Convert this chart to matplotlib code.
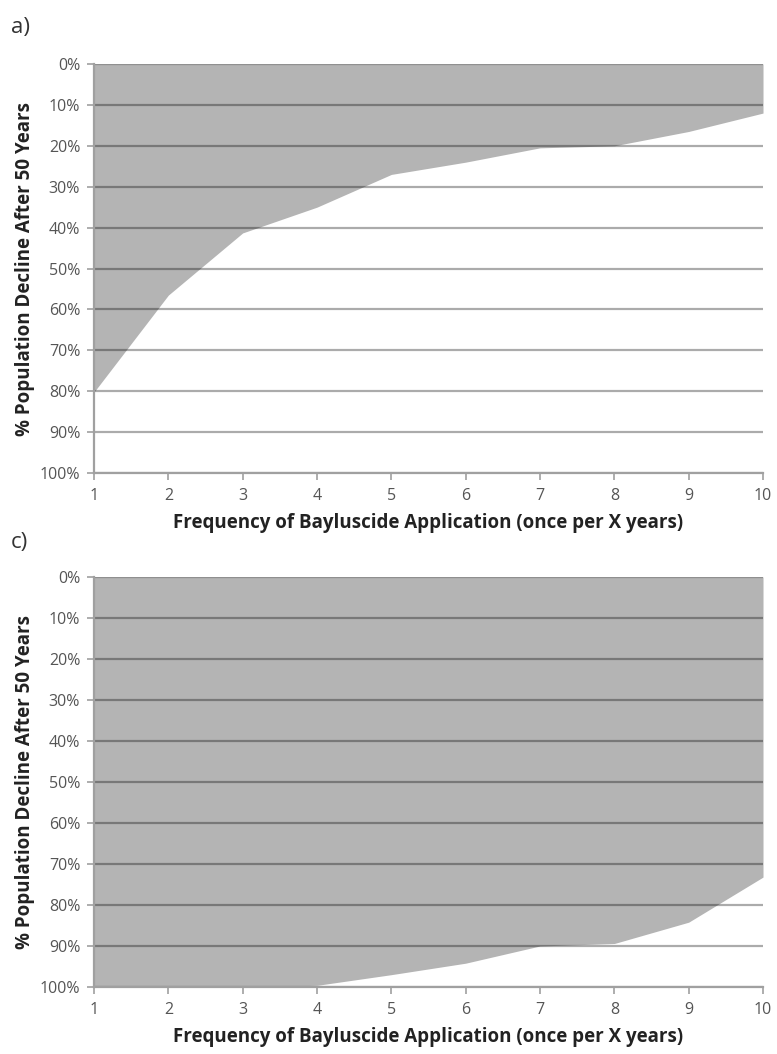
import matplotlib.pyplot as plt
import numpy as np

plt.rcParams['font.family'] = ['Open Sans', 'DejaVu Sans']

# Frequency of application (once per X years)
years = [1, 2, 3, 4, 5, 6, 7, 8, 9, 10]

# % population decline after 50 years
decline_a = [80.2, 56.5, 41.3, 35.0, 27.0, 24.0, 20.5, 20.0, 16.5, 12.0]
decline_c = [100.0, 100.0, 100.0, 99.6, 97.0, 94.2, 90.0, 89.4, 84.2, 73.2]

y_ticks = list(range(0, 101, 10))
y_tick_labels = ['%d%%' % v for v in y_ticks]

fig = plt.figure(figsize=(7.77, 10.54), dpi=100)

panels = [
    ('a)', decline_a, [0.121, 0.5512, 0.861, 0.3881], 0.974),
    ('c)', decline_c, [0.121, 0.0636, 0.861, 0.3890], 0.485),
]

for label, values, rect, label_y in panels:
    ax = fig.add_axes(rect)
    ax.fill_between(years, 0, values, color='#b4b4b4', linewidth=0, zorder=1)
    ax.set_xlim(1, 10)
    ax.set_ylim(100, 0)
    ax.set_xticks(years)
    ax.set_yticks(y_ticks)
    ax.set_yticklabels(y_tick_labels)
    ax.grid(axis='y', color='black', alpha=0.33, linewidth=1.6, zorder=2)
    ax.set_axisbelow(False)
    for side in ['top', 'right']:
        ax.spines[side].set_visible(False)
    for side in ['left', 'bottom']:
        ax.spines[side].set_color('#a0a0a0')
        ax.spines[side].set_linewidth(1.6)
        ax.spines[side].set_zorder(3)
    ax.tick_params(axis='both', direction='out', length=5, width=1.2,
                   color='#a0a0a0', labelcolor='#555555', labelsize=11.5)
    ax.tick_params(axis='x', pad=6)
    ax.tick_params(axis='y', pad=5)
    ax.set_xlabel('Frequency of Bayluscide Application (once per X years)',
                  fontsize=13.5, fontweight='bold', color='#222222', labelpad=6)
    ax.set_ylabel('% Population Decline After 50 Years',
                  fontsize=13.5, fontweight='bold', color='#222222', labelpad=3)
    fig.text(0.014, label_y, label, fontsize=16, color='#333333', va='center')

fig.savefig('out.png', dpi=100)
